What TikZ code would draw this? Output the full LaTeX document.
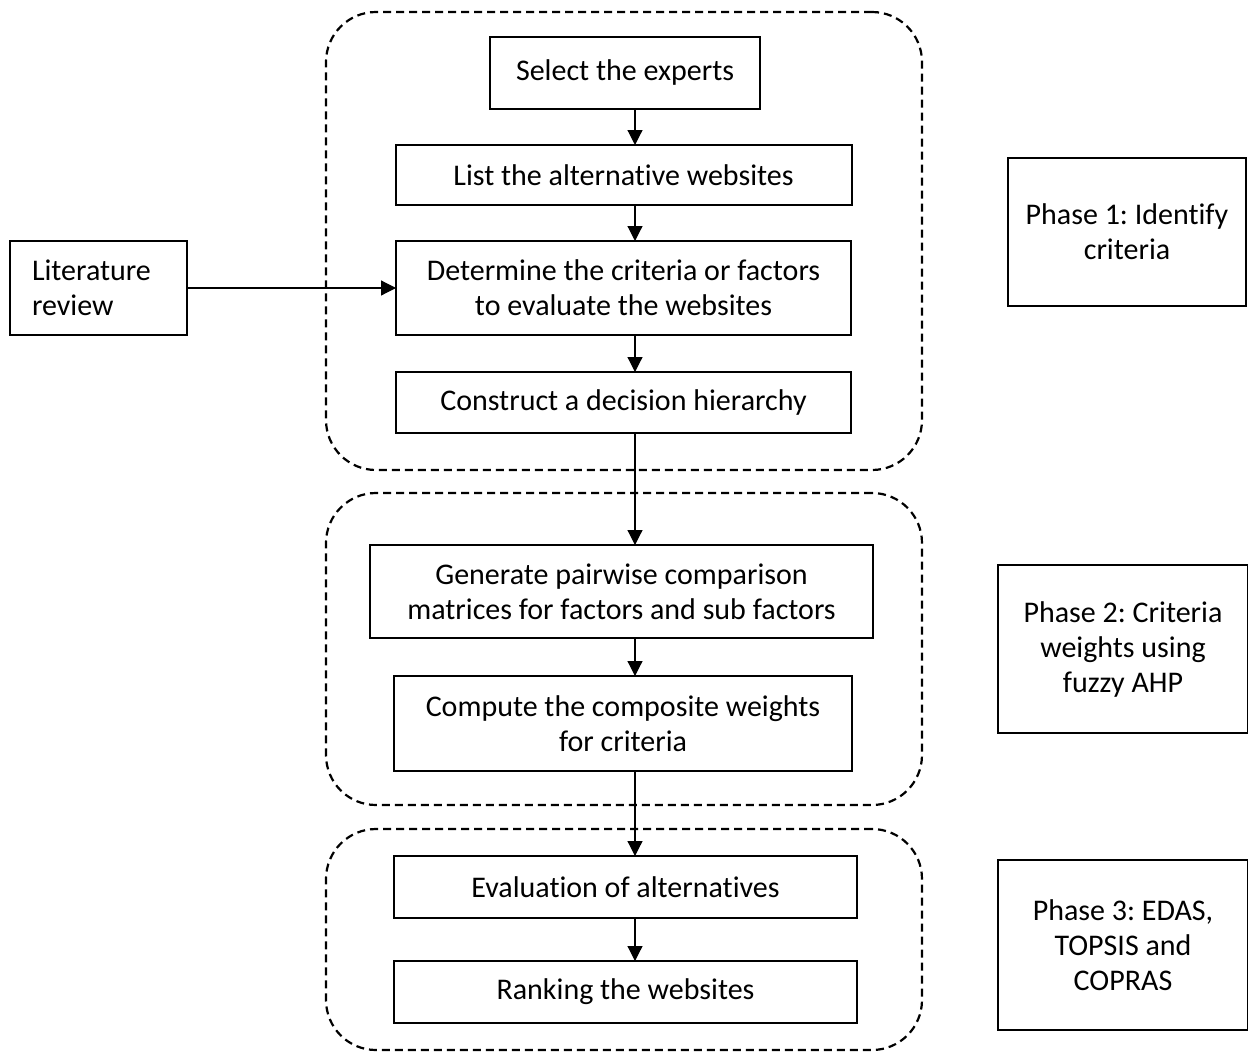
\documentclass[tikz,border=0pt]{standalone}
\usepackage{fontspec}
\setmainfont{Carlito}[Ligatures=NoCommon]
\usepackage{tikz}
\usetikzlibrary{arrows.meta}
\frenchspacing

\begin{document}
\begin{tikzpicture}[x=1pt,y=-1pt,
  every node/.style={font=\fontsize{30}{35}\selectfont, outer sep=0pt},
  stepbox/.style={draw, line width=2pt, align=center, inner sep=4pt},
  phasebox/.style={draw, line width=2pt, align=center},
  groupbox/.style={draw, line width=2.2pt, dash pattern=on 8pt off 5pt, rounded corners=50pt},
  flow/.style={-{Triangle[width=15pt,length=15pt]}, line width=1.2pt}]
\useasboundingbox (0,0) rectangle (1248,1055);

\node[groupbox, minimum width=596, minimum height=458] (grpa) at (624,241) {};
\node[groupbox, minimum width=596, minimum height=312] (grpb) at (624,649) {};
\node[groupbox, minimum width=596, minimum height=221] (grpc) at (624,939.5) {};

\node[stepbox, minimum width=270, minimum height=72] (sel) at (625,73) {Select the experts};
\node[stepbox, minimum width=456, minimum height=60] (lst) at (623.5,175) {List the alternative websites};
\node[stepbox, minimum width=455, minimum height=94] (det) at (623.5,288) {Determine the criteria or factors\\to evaluate the websites};
\node[stepbox, minimum width=455, minimum height=61] (hier) at (623.5,402.5) {Construct a decision hierarchy};
\node[stepbox, minimum width=503, minimum height=93] (gen) at (621.5,591.5) {Generate pairwise comparison\\matrices for factors and sub factors};
\node[stepbox, minimum width=458, minimum height=95] (comp) at (623,723.5) {Compute the composite weights\\for criteria};
\node[stepbox, minimum width=463, minimum height=62] (eval) at (625.5,887) {Evaluation of alternatives};
\node[stepbox, minimum width=463, minimum height=62] (rank) at (625.5,992) {Ranking the websites};

\node[stepbox, align=left, inner xsep=22pt, text width=133, minimum height=94] (lit) at (98.5,288) {Literature\\review};

\node[phasebox, minimum width=238, minimum height=148] (pha) at (1127,232) {Phase 1: Identify\\criteria};
\node[phasebox, minimum width=250, minimum height=168] (phb) at (1123,649) {Phase 2: Criteria\\weights using\\fuzzy AHP};
\node[phasebox, minimum width=250, minimum height=170] (phc) at (1123,945) {Phase 3: EDAS,\\TOPSIS and\\COPRAS};

\coordinate (axis) at (635,0);
\draw[flow] (sel.south -| axis) -- (lst.north -| axis);
\draw[flow] (lst.south -| axis) -- (det.north -| axis);
\draw[flow] (det.south -| axis) -- (hier.north -| axis);
\draw[flow] (hier.south -| axis) -- (gen.north -| axis);
\draw[flow] (gen.south -| axis) -- (comp.north -| axis);
\draw[flow] (comp.south -| axis) -- (eval.north -| axis);
\draw[flow] (eval.south -| axis) -- (rank.north -| axis);
\draw[flow] (lit.east) -- (det.west);
\end{tikzpicture}
\end{document}
